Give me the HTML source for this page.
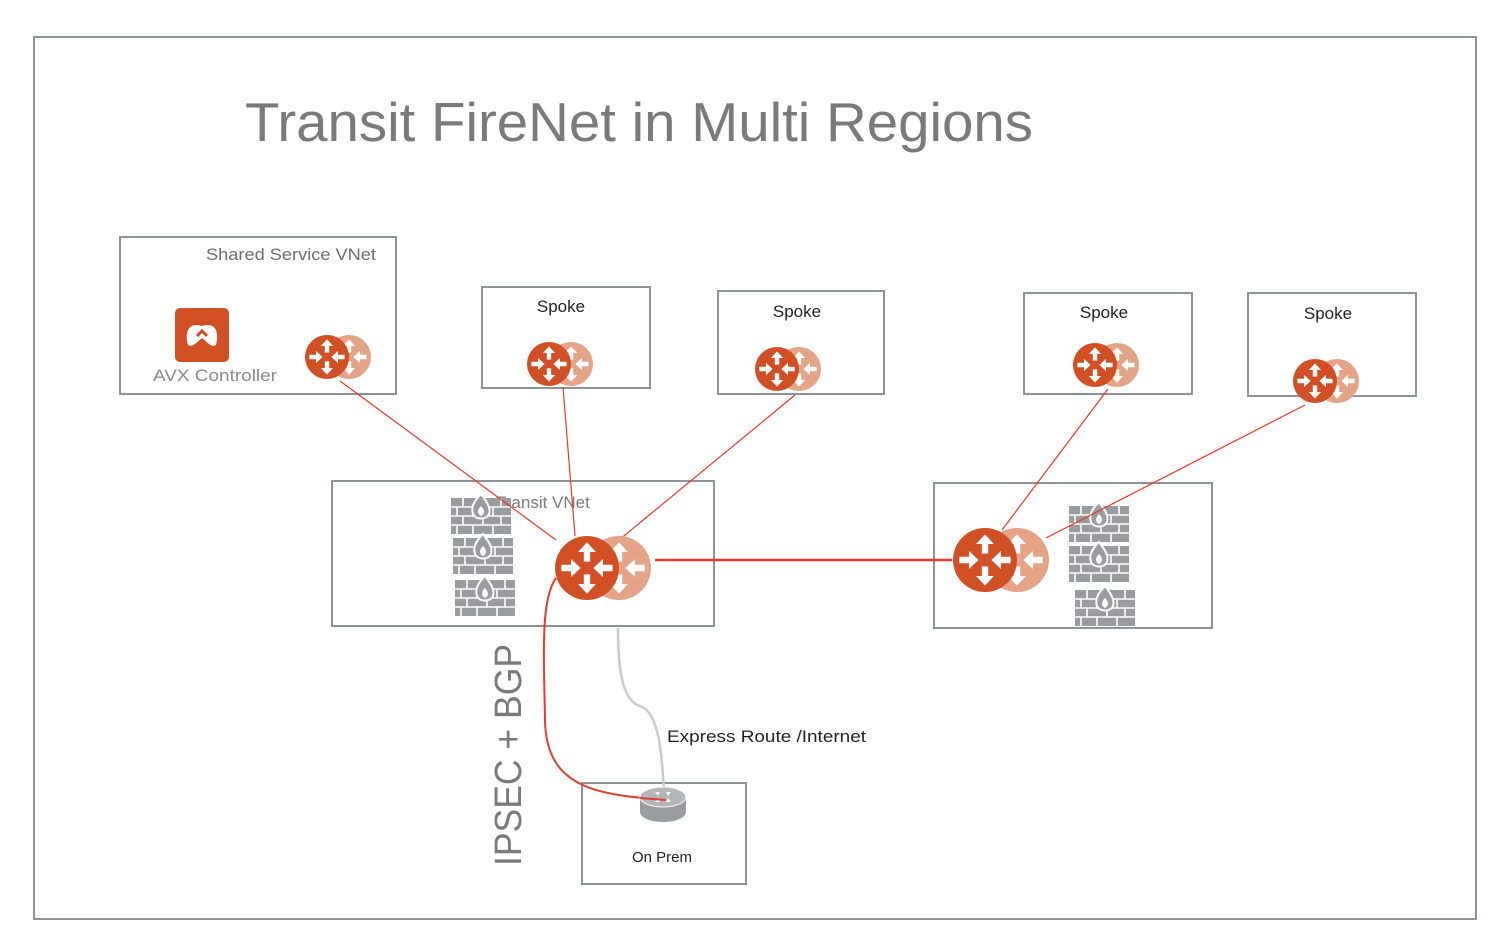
<!DOCTYPE html>
<html><head><meta charset="utf-8"><style>
html,body{margin:0;padding:0;background:#fff;}
svg{display:block;font-family:"Liberation Sans",sans-serif;}
</style></head><body>
<svg width="1504" height="928" viewBox="0 0 1504 928" xmlns="http://www.w3.org/2000/svg">
<defs>
<g id="arrows" fill="#fff">
 <polygon points="0,-0.8 -0.28,-0.5 -0.1,-0.5 -0.1,-0.2 0.1,-0.2 0.1,-0.5 0.28,-0.5"/>
 <polygon points="0,0.8 -0.28,0.5 -0.1,0.5 -0.1,0.2 0.1,0.2 0.1,0.5 0.28,0.5"/>
 <polygon points="-0.2,0 -0.5,-0.28 -0.5,-0.1 -0.8,-0.1 -0.8,0.1 -0.5,0.1 -0.5,0.28"/>
 <polygon points="0.2,0 0.5,-0.28 0.5,-0.1 0.8,-0.1 0.8,0.1 0.5,0.1 0.5,0.28"/>
</g>
<g id="rt">
 <circle cx="1" cy="0" r="1" fill="#E5A486"/>
 <g transform="translate(1,0)"><use href="#arrows"/></g>
 <circle cx="0" cy="0" r="1" fill="#D24F23"/>
 <use href="#arrows"/>
</g>
<g id="fw">
 <rect x="0" y="0" width="60" height="36" fill="#9A9DA0"/>
 <g stroke="#fff" stroke-width="1.6">
  <line x1="0" y1="9" x2="60" y2="9"/><line x1="0" y1="18" x2="60" y2="18"/><line x1="0" y1="27" x2="60" y2="27"/>
  <line x1="12" y1="0" x2="12" y2="9"/><line x1="32" y1="0" x2="32" y2="9"/><line x1="50" y1="0" x2="50" y2="9"/>
  <line x1="6" y1="9" x2="6" y2="18"/><line x1="22" y1="9" x2="22" y2="18"/><line x1="42" y1="9" x2="42" y2="18"/>
  <line x1="12" y1="18" x2="12" y2="27"/><line x1="32" y1="18" x2="32" y2="27"/><line x1="50" y1="18" x2="50" y2="27"/>
  <line x1="6" y1="27" x2="6" y2="36"/><line x1="22" y1="27" x2="22" y2="36"/><line x1="42" y1="27" x2="42" y2="36"/>
 </g>
 <path d="M30,-4 C22,4 20,10 22,16 C24,22 36,22 38,16 C40,10 36,4 30,-4 Z" fill="#9A9DA0" stroke="#fff" stroke-width="2"/>
 <path d="M30,8 C26,12 26,16 30,18 C34,16 34,12 30,8 Z" fill="#fff"/>
</g>
</defs>

<rect x="34" y="37" width="1442" height="882" fill="none" stroke="#8E9196" stroke-width="2"/>
<text x="245" y="141" font-size="55" fill="#7a7a7a" textLength="788" lengthAdjust="spacingAndGlyphs">Transit FireNet in Multi Regions</text>

<g fill="none" stroke="#8E9196" stroke-width="2">
<rect x="120" y="237" width="276" height="157"/>
<rect x="482" y="287" width="168" height="101"/>
<rect x="718" y="291" width="166" height="103"/>
<rect x="1024" y="293" width="168" height="101"/>
<rect x="1248" y="293" width="168" height="103"/>
<rect x="332" y="481" width="382" height="145"/>
<rect x="934" y="483" width="278" height="145"/>
<rect x="582" y="783" width="164" height="101"/>
</g>

<text x="206" y="260" font-size="17" fill="#6d6d6d" textLength="170" lengthAdjust="spacingAndGlyphs">Shared Service VNet</text>
<text x="561" y="312" font-size="17" fill="#222" text-anchor="middle">Spoke</text>
<text x="797" y="317" font-size="17" fill="#222" text-anchor="middle">Spoke</text>
<text x="1104" y="318" font-size="17" fill="#222" text-anchor="middle">Spoke</text>
<text x="1328" y="319" font-size="17" fill="#222" text-anchor="middle">Spoke</text>
<text x="153" y="381" font-size="17" fill="#8a8a8a" textLength="124" lengthAdjust="spacingAndGlyphs">AVX Controller</text>
<text x="496" y="508" font-size="17" fill="#7a7a7a">Transit VNet</text>
<text x="662" y="862" font-size="15" fill="#222" text-anchor="middle">On Prem</text>
<text x="667" y="742" font-size="17" fill="#222" textLength="199" lengthAdjust="spacingAndGlyphs">Express Route /Internet</text>
<text transform="translate(521,866) rotate(-90)" font-size="38" fill="#7a7a7a" textLength="222" lengthAdjust="spacingAndGlyphs">IPSEC + BGP</text>

<rect x="175" y="308" width="54" height="54" rx="5" fill="#D24F23"/>
<path d="M188,345 C184,330 190,322 202,326 C214,322 220,330 216,345 C212,348 208,343 202,338 C196,343 192,348 188,345 Z" fill="#fff"/>
<path d="M197,336 L202,331 L207,336" fill="none" stroke="#D24F23" stroke-width="3"/>

<use href="#fw" x="451" y="498"/>
<use href="#fw" x="453" y="538"/>
<use href="#fw" x="455" y="580"/>
<use href="#fw" x="1069" y="506"/>
<use href="#fw" x="1069" y="546"/>
<use href="#fw" x="1075" y="590"/>

<g stroke="#E8392C" stroke-width="1.2" fill="none">
<line x1="340" y1="381" x2="556" y2="540"/>
<line x1="563" y1="387" x2="575" y2="536"/>
<line x1="795" y1="395" x2="619" y2="540"/>
<line x1="1108" y1="389" x2="1002" y2="530"/>
<line x1="1305" y1="405" x2="1046" y2="538"/>
</g>
<line x1="655" y1="560" x2="952" y2="560" stroke="#E8392C" stroke-width="2.5"/>
<path d="M556,578 C540,600 544,660 545,720 C546,790 600,795 668,800" stroke="#E8392C" stroke-width="2" fill="none"/>
<path d="M618,628 C618,660 620,700 640,706 C660,712 662,760 664,790" stroke="#C9CBCD" stroke-width="2.5" fill="none"/>

<path d="M640,797 L640,812 A23,10 0 0 0 686,812 L686,797 Z" fill="#9A9DA0"/>
<ellipse cx="663" cy="797" rx="23" ry="10" fill="#B4B6B9" stroke="#fff" stroke-width="1"/>
<g fill="#fff"><polygon points="655,792 660,792 658,796"/><polygon points="671,792 666,792 668,796"/><polygon points="655,802 660,802 658,798"/><polygon points="671,802 666,802 668,798"/></g>
<line x1="640" y1="798" x2="666" y2="800" stroke="#E8392C" stroke-width="2"/>

<g transform="translate(327,357) scale(22)"><use href="#rt"/></g>
<g transform="translate(549,364) scale(22)"><use href="#rt"/></g>
<g transform="translate(777,369) scale(22)"><use href="#rt"/></g>
<g transform="translate(1095,365) scale(22)"><use href="#rt"/></g>
<g transform="translate(1315,381) scale(22)"><use href="#rt"/></g>
<g transform="translate(587,568) scale(32)"><use href="#rt"/></g>
<g transform="translate(985,560) scale(32)"><use href="#rt"/></g>
</svg>
</body></html>
